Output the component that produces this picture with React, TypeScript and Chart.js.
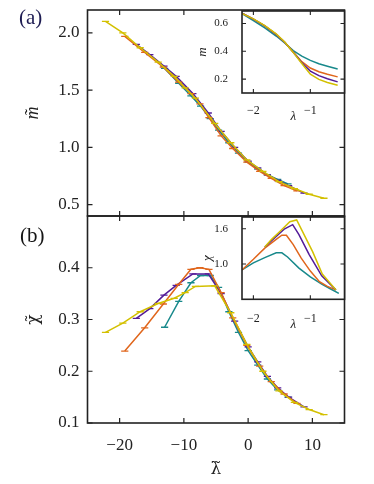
import React, { useEffect, useRef } from 'react';
import { Chart, registerables } from 'chart.js';

Chart.register(...registerables);

const PURPLE = '#531b98';
const ORANGE = '#e0661c';
const TEAL = '#18898b';
const YELLOW = '#d3c000';

const FONT = "'Liberation Serif', 'DejaVu Serif', serif";
const FONT_GREEK = "'DejaVu Serif', 'Liberation Serif', serif";

// ---- main panels: scaled coupling for each system ----
const xYellow = [-22.2, -19.5, -16.8, -14.0, -11.5, -9.8, -8.2, -5.2, -2.7, -0.2, 2.3, 4.8, 7.2, 9.5, 11.8];
const xOrange = [-19.2, -16.1, -13.2, -10.8, -8.9, -7.5, -6.1, -4.2, -2.4, -0.2, 1.8, 3.6, 5.6, 7.6];
const xPurple = [-17.4, -15.3, -13.1, -11.2, -8.6, -6.2, -4.2, -2.1, 0.0, 1.5, 3.0, 4.6, 6.3, 8.7];
const xTeal = [-13.0, -10.8, -8.9, -7.4, -5.9, -4.6, -3.0, -1.5, 0.0, 1.5, 3.0, 4.6, 6.2];

// panel (a): scaled magnetisation
const mYellow = [2.10, 2.00, 1.87, 1.745, 1.62, 1.52, 1.43, 1.21, 1.04, 0.89, 0.79, 0.70, 0.64, 0.59, 0.555];
const mOrange = [1.97, 1.83, 1.70, 1.57, 1.47, 1.38, 1.26, 1.10, 0.99, 0.87, 0.79, 0.73, 0.665, 0.62];
const mPurple = [1.90, 1.81, 1.71, 1.62, 1.47, 1.30, 1.14, 1.00, 0.88, 0.82, 0.76, 0.71, 0.665, 0.60];
const mTeal = [1.69, 1.56, 1.45, 1.36, 1.25, 1.15, 1.04, 0.95, 0.87, 0.81, 0.76, 0.72, 0.68];

// panel (b): scaled susceptibility
const chiYellow = [0.275, 0.293, 0.315, 0.331, 0.341, 0.352, 0.364, 0.365, 0.313, 0.252, 0.200, 0.162, 0.140, 0.126, 0.116];
const chiOrange = [0.239, 0.284, 0.330, 0.368, 0.397, 0.400, 0.397, 0.352, 0.303, 0.250, 0.210, 0.180, 0.156, 0.138];
const chiPurple = [0.302, 0.321, 0.347, 0.366, 0.388, 0.388, 0.350, 0.297, 0.247, 0.218, 0.190, 0.168, 0.150, 0.131];
const chiTeal = [0.285, 0.335, 0.371, 0.385, 0.385, 0.362, 0.315, 0.275, 0.240, 0.212, 0.185, 0.164, 0.150];

// ---- inset (a): m vs lambda ----
const lamM = [-2.2, -2.0, -1.8, -1.6, -1.45, -1.3, -1.15, -1.0, -0.85, -0.7, -0.52];
const insMTeal = [0.672, 0.62, 0.568, 0.51, 0.46, 0.405, 0.365, 0.335, 0.31, 0.292, 0.272];
const insMOrange = [0.675, 0.632, 0.583, 0.522, 0.465, 0.395, 0.325, 0.28, 0.253, 0.235, 0.216];
const insMPurple = [0.675, 0.632, 0.583, 0.522, 0.465, 0.393, 0.318, 0.258, 0.225, 0.203, 0.18];
const insMYellow = [0.672, 0.633, 0.585, 0.525, 0.467, 0.392, 0.312, 0.235, 0.198, 0.176, 0.156];

// ---- inset (b): chi vs lambda ----
const lamChiTeal = [-2.2, -2.0, -1.8, -1.6, -1.5, -1.4, -1.2, -1.0, -0.8, -0.65, -0.5];
const insChiTeal = [0.90, 1.02, 1.11, 1.19, 1.19, 1.12, 0.93, 0.78, 0.66, 0.58, 0.50];
const lamChiOrange = [-2.2, -2.0, -1.8, -1.6, -1.5, -1.42, -1.3, -1.16, -1.0, -0.84, -0.7, -0.55];
const insChiOrange = [0.90, 1.08, 1.27, 1.42, 1.49, 1.49, 1.33, 1.10, 0.88, 0.70, 0.62, 0.56];
const lamChiPurple = [-1.8, -1.6, -1.45, -1.31, -1.2, -1.02, -0.8, -0.55];
const insChiPurple = [1.29, 1.47, 1.60, 1.67, 1.50, 1.16, 0.80, 0.56];
const lamChiYellow = [-1.8, -1.68, -1.54, -1.36, -1.24, -0.96, -0.79, -0.55];
const insChiYellow = [1.29, 1.42, 1.55, 1.72, 1.75, 1.21, 0.83, 0.56];

// ---- ticks ----
const xTicksMain = [-20, -10, 0, 10];
const yTicksA = [0.5, 1.0, 1.5, 2.0];
const yTicksB = [0.1, 0.2, 0.3, 0.4];
const xTicksInset = [-2, -1];
const yTicksInsetA = [0.2, 0.4, 0.6];
const yTicksInsetB = [1.0, 1.6];

const fmtMinus = (v: number) => String(v).replace('-', '\u2212');
const fmt1 = (v: number) => v.toFixed(1);

const framePlugin = {
  id: 'frame',
  beforeDraw(chart: any) {
    const o = chart.options.plugins.frame;
    if (o && o.fill) {
      const { left, top, right, bottom } = chart.chartArea;
      const ctx = chart.ctx;
      ctx.save();
      ctx.fillStyle = o.fill;
      ctx.fillRect(left, top, right - left, bottom - top);
      ctx.restore();
    }
  },
  afterDraw(chart: any) {
    const o = chart.options.plugins.frame;
    const ctx = chart.ctx;
    const { left, top, right, bottom } = chart.chartArea;
    const xs = chart.scales.x;
    const ys = chart.scales.y;
    const L = o.tick;
    ctx.save();
    ctx.strokeStyle = '#222';
    ctx.lineWidth = o.width;
    ctx.beginPath();
    o.xt.forEach((v: number) => {
      const p = xs.getPixelForValue(v);
      ctx.moveTo(p, bottom);
      ctx.lineTo(p, bottom - L);
      ctx.moveTo(p, top);
      ctx.lineTo(p, top + L);
    });
    o.yt.forEach((v: number) => {
      const p = ys.getPixelForValue(v);
      ctx.moveTo(left, p);
      ctx.lineTo(left + L, p);
      ctx.moveTo(right, p);
      ctx.lineTo(right - L, p);
    });
    ctx.stroke();
    ctx.lineWidth = o.border;
    ctx.strokeRect(left, top, right - left, bottom - top);
    ctx.restore();
  },
};

function ds(xs: number[], ys: number[], color: string, order: number, caps: boolean) {
  return {
    data: xs.map((x, i) => ({ x, y: ys[i] })),
    showLine: true,
    borderColor: color,
    backgroundColor: color,
    borderWidth: 1.5,
    pointStyle: caps ? 'line' : 'circle',
    pointRadius: caps ? 3.6 : 0,
    pointBorderWidth: 1.3,
    pointBorderColor: color,
    pointHoverRadius: 0,
    order,
    tension: 0,
  };
}

function zeroPad(s: any) {
  s.paddingTop = 0;
  s.paddingBottom = 0;
  s.paddingLeft = 0;
  s.paddingRight = 0;
}

function scaleX(min: number, max: number, ticks: number[], opt: any) {
  return {
    type: 'linear',
    min,
    max,
    grid: { display: false, drawTicks: false },
    border: { display: false },
    afterBuildTicks: (s: any) => {
      s.ticks = ticks.map((v) => ({ value: v }));
    },
    afterFit: (s: any) => {
      s.height = opt.height;
      zeroPad(s);
    },
    ticks: {
      display: opt.labels,
      padding: opt.padding,
      color: '#222',
      font: { family: FONT, size: opt.size },
      maxRotation: 0,
      autoSkip: false,
      callback: (v: number) => fmtMinus(v),
    },
    title: opt.title
      ? {
          display: true,
          text: opt.title,
          color: '#222',
          font: { family: opt.tfamily || FONT, size: opt.tsize, style: opt.italic ? 'italic' : 'normal' },
          padding: { top: 0, bottom: opt.tpad },
        }
      : { display: false },
  };
}

function scaleY(min: number, max: number, ticks: number[], opt: any) {
  return {
    type: 'linear',
    min,
    max,
    grid: { display: false, drawTicks: false },
    border: { display: false },
    afterBuildTicks: (s: any) => {
      s.ticks = ticks.map((v) => ({ value: v }));
    },
    afterFit: (s: any) => {
      s.width = opt.width;
      zeroPad(s);
    },
    ticks: {
      padding: opt.padding,
      color: '#222',
      font: { family: FONT, size: opt.size },
      autoSkip: false,
      callback: (v: number) => fmt1(v),
    },
    title: {
      display: true,
      text: opt.title,
      color: '#222',
      font: { family: opt.tfamily || FONT, size: opt.tsize, style: opt.italic ? 'italic' : 'normal' },
      padding: { top: opt.tpad, bottom: 0 },
    },
  };
}

function baseOptions(padding: any, scales: any, frame: any) {
  return {
    responsive: false,
    maintainAspectRatio: false,
    animation: false,
    events: [],
    layout: { padding },
    plugins: { legend: { display: false }, tooltip: { enabled: false }, frame },
    scales,
  };
}

export default function App() {
  const refA = useRef<HTMLCanvasElement>(null);
  const refB = useRef<HTMLCanvasElement>(null);
  const refIA = useRef<HTMLCanvasElement>(null);
  const refIB = useRef<HTMLCanvasElement>(null);

  useEffect(() => {
    const charts: Chart[] = [];

    charts.push(
      new Chart(refA.current as HTMLCanvasElement, {
        type: 'scatter',
        data: {
          datasets: [
            ds(xYellow, mYellow, YELLOW, 0, true),
            ds(xOrange, mOrange, ORANGE, 1, true),
            ds(xPurple, mPurple, PURPLE, 2, true),
            ds(xTeal, mTeal, TEAL, 3, true),
          ],
        },
        options: baseOptions(
          { top: 10, right: 29.5, left: 0, bottom: 0 },
          {
            x: scaleX(-25, 15, xTicksMain, { height: 9, labels: false, padding: 0, size: 17 }),
            y: scaleY(0.4, 2.2, yTicksA, { width: 87.5, padding: 8, size: 17, title: 'm\u0303', tsize: 18, tpad: 22, italic: true }),
          },
          { xt: xTicksMain, yt: yTicksA, tick: 5, width: 1.2, border: 1.6 }
        ) as any,
        plugins: [framePlugin as any],
      })
    );

    charts.push(
      new Chart(refB.current as HTMLCanvasElement, {
        type: 'scatter',
        data: {
          datasets: [
            ds(xYellow, chiYellow, YELLOW, 0, true),
            ds(xOrange, chiOrange, ORANGE, 1, true),
            ds(xPurple, chiPurple, PURPLE, 2, true),
            ds(xTeal, chiTeal, TEAL, 3, true),
          ],
        },
        options: baseOptions(
          { top: 6, right: 29.5, left: 0, bottom: 0 },
          {
            x: scaleX(-25, 15, xTicksMain, { height: 61, labels: true, padding: 12, size: 17, title: '\u03bb\u0303', tsize: 17, tpad: 4, italic: false, tfamily: FONT_GREEK }),
            y: scaleY(0.1, 0.5, yTicksB, { width: 87.5, padding: 8, size: 17, title: '\u03c7\u0303', tsize: 17, tpad: 23, italic: false, tfamily: FONT_GREEK }),
          },
          { xt: xTicksMain, yt: yTicksB, tick: 5, width: 1.2, border: 1.6 }
        ) as any,
        plugins: [framePlugin as any],
      })
    );

    charts.push(
      new Chart(refIA.current as HTMLCanvasElement, {
        type: 'scatter',
        data: {
          datasets: [
            ds(lamM, insMYellow, YELLOW, 0, false),
            ds(lamM, insMPurple, PURPLE, 1, false),
            ds(lamM, insMOrange, ORANGE, 2, false),
            ds(lamM, insMTeal, TEAL, 3, false),
          ],
        },
        options: baseOptions(
          { top: 11, right: 29.5, left: 0, bottom: 0 },
          {
            x: scaleX(-2.2, -0.4, xTicksInset, { height: 37, labels: true, padding: 11, size: 12, title: '\u03bb', tsize: 13, tpad: 6, italic: true }),
            y: scaleY(0.1, 0.69, yTicksInsetA, { width: 52, padding: 14, size: 11, title: 'm', tsize: 13, tpad: 5, italic: true }),
          },
          { xt: xTicksInset, yt: yTicksInsetA, tick: 4, width: 1.1, border: 1.6, fill: '#ffffff' }
        ) as any,
        plugins: [framePlugin as any],
      })
    );

    charts.push(
      new Chart(refIB.current as HTMLCanvasElement, {
        type: 'scatter',
        data: {
          datasets: [
            ds(lamChiYellow, insChiYellow, YELLOW, 0, false),
            ds(lamChiPurple, insChiPurple, PURPLE, 1, false),
            ds(lamChiOrange, insChiOrange, ORANGE, 2, false),
            ds(lamChiTeal, insChiTeal, TEAL, 3, false),
          ],
        },
        options: baseOptions(
          { top: 12, right: 29.5, left: 0, bottom: 0 },
          {
            x: scaleX(-2.2, -0.4, xTicksInset, { height: 35.7, labels: true, padding: 12, size: 12, title: '\u03bb', tsize: 13, tpad: 3, italic: true }),
            y: scaleY(0.4, 1.8, yTicksInsetB, { width: 52, padding: 14, size: 11, title: '\u03c7', tsize: 13, tpad: 10, italic: true }),
          },
          { xt: xTicksInset, yt: yTicksInsetB, tick: 4, width: 1.1, border: 1.6, fill: '#ffffff' }
        ) as any,
        plugins: [framePlugin as any],
      })
    );

    return () => charts.forEach((c) => c.destroy());
  }, []);

  const abs = (left: number, top: number): React.CSSProperties => ({ position: 'absolute', left, top, display: 'block' });

  return (
    <div style={{ position: 'absolute', left: 0, top: 0, width: 374, height: 484, background: '#fff', overflow: 'hidden' }}>
      <canvas ref={refA} width={374} height={225} style={{ ...abs(0, 0), width: 374, height: 225 }} />
      <canvas ref={refB} width={374} height={274} style={{ ...abs(0, 210), width: 374, height: 274 }} />
      <canvas ref={refIA} width={184} height={130} style={{ ...abs(190, 0), width: 184, height: 130 }} />
      <canvas ref={refIB} width={184} height={130} style={{ ...abs(190, 205), width: 184, height: 130 }} />
      <div style={{ position: 'absolute', left: 19, top: 7, fontFamily: FONT, fontSize: 21, lineHeight: '21px', color: '#1d1b52' }}>(a)</div>
      <div style={{ position: 'absolute', left: 20, top: 225, fontFamily: FONT, fontSize: 21, lineHeight: '21px', color: '#151515' }}>(b)</div>
    </div>
  );
}
